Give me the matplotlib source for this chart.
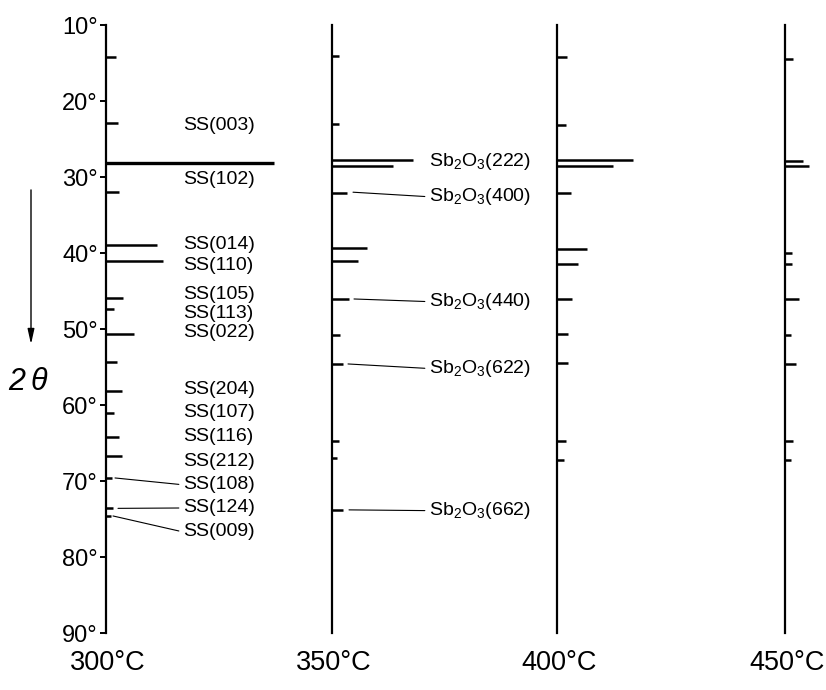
import matplotlib
matplotlib.use('Agg')
import matplotlib.pyplot as plt
from matplotlib import font_manager

# peak positions (2theta, deg) and relative intensities for each annealing temperature
temps = ['300°C', '350°C', '400°C', '450°C']

p300_angle = [14.2, 22.9, 28.1, 32.0, 39.0, 41.05, 45.9, 47.4, 50.6, 54.4, 58.2, 61.0, 64.2, 66.7, 69.6, 73.6, 74.6]
p300_int = [10, 12, 168, 13, 51, 57, 17, 8, 28, 11, 16, 8, 13, 16, 6, 7, 5]

p350_angle = [14.1, 23.0, 27.8, 28.5, 32.1, 39.3, 41.1, 46.05, 50.8, 54.6, 64.8, 67.0, 73.8]
p350_int = [7, 7, 81, 61, 15, 35, 26, 17, 8, 11, 7, 5, 11]

p400_angle = [14.2, 23.2, 27.7, 28.5, 32.1, 39.5, 41.4, 46.0, 50.7, 54.5, 64.8, 67.2]
p400_int = [10, 9, 76, 56, 14, 30, 21, 15, 11, 11, 9, 7]

p450_angle = [14.5, 27.9, 28.6, 40.0, 41.5, 46.05, 50.8, 54.6, 64.8, 67.2]
p450_int = [8, 18, 24, 7, 7, 14, 6, 11, 8, 6]

# SS labels on the 300°C pattern; last three have leader lines to their peaks
ss_labels = ['SS(003)', 'SS(102)', 'SS(014)', 'SS(110)', 'SS(105)', 'SS(113)', 'SS(022)',
             'SS(204)', 'SS(107)', 'SS(116)', 'SS(212)', 'SS(108)', 'SS(124)', 'SS(009)']
ss_label_angle = [23.2, 30.3, 38.9, 41.6, 45.5, 48.0, 50.5, 58.0, 61.05, 64.2, 67.5, 70.5, 73.55, 76.7]
ss_lead_angle = [None] * 11 + [69.6, 73.6, 74.6]
ss_lead_x = [None] * 11 + [9, 12, 7]

# Sb2O3 labels on the 350°C pattern
sb_labels = ['(222)', '(400)', '(440)', '(622)', '(662)']
sb_label_angle = [27.9, 32.6, 46.4, 55.2, 73.9]
sb_lead_angle = [None, 32.0, 46.05, 54.6, 73.8]
sb_lead_x = [None, 21, 22, 16, 17]

names = {f.name for f in font_manager.fontManager.ttflist}
narrow = 'Liberation Sans Narrow' if 'Liberation Sans Narrow' in names else 'Liberation Sans'
plt.rcParams['font.family'] = ['Liberation Sans', 'DejaVu Sans']
plt.rcParams['mathtext.fontset'] = 'custom'
plt.rcParams['mathtext.rm'] = 'Liberation Sans'

W, H = 826, 690
fig = plt.figure(figsize=(W / 100, H / 100), dpi=100)

axis_px = [106, 332, 557, 785]
y_top, y_bot = 25, 633
peaks = [(p300_angle, p300_int), (p350_angle, p350_int),
         (p400_angle, p400_int), (p450_angle, p450_int)]

axes = []
for i, xp in enumerate(axis_px):
    ax = fig.add_axes([xp / W, (H - y_bot) / H, 200 / W, (y_bot - y_top) / H])
    ax.set_xlim(0, 200)
    ax.set_ylim(90, 10)
    ax.patch.set_visible(False)
    for s in ['top', 'right', 'bottom']:
        ax.spines[s].set_visible(False)
    ax.spines['left'].set_linewidth(1.6)
    ax.set_xticks([])
    ang, inten = peaks[i]
    lws = [2.4 if v > 100 else 1.8 for v in inten]
    ax.hlines(ang, 0, inten, colors='black', linewidth=lws)
    ax.text(2, 93.9, temps[i], ha='center', va='center', fontsize=19.5,
            family=[narrow, 'DejaVu Sans'], clip_on=False)
    if i == 0:
        ax.set_yticks(range(10, 91, 10))
        ax.set_yticklabels([f'{v}°' for v in range(10, 91, 10)],
                           fontsize=17, family=[narrow, 'DejaVu Sans'])
        ax.tick_params(axis='y', direction='out', length=4, width=1.4, pad=2)
    else:
        ax.set_yticks([])
    axes.append(ax)

ax0 = axes[0]
for txt, la, pa, px in zip(ss_labels, ss_label_angle, ss_lead_angle, ss_lead_x):
    if pa is None:
        ax0.text(77, la, txt, ha='left', va='center', fontsize=14)
    else:
        ax0.annotate(txt, xy=(px, pa), xytext=(77, la), ha='left', va='center', fontsize=14,
                     arrowprops=dict(arrowstyle='-', lw=0.8, color='black',
                                     shrinkA=1, shrinkB=0, relpos=(0, 0.5)))

ax1 = axes[1]
for txt, la, pa, px in zip(sb_labels, sb_label_angle, sb_lead_angle, sb_lead_x):
    s = r'Sb$_\mathregular{2}$O$_\mathregular{3}$' + txt
    if pa is None:
        ax1.text(97, la, s, ha='left', va='center', fontsize=14)
    else:
        ax1.annotate(s, xy=(px, pa), xytext=(97, la), ha='left', va='center', fontsize=14,
                     arrowprops=dict(arrowstyle='-', lw=0.8, color='black',
                                     shrinkA=1, shrinkB=0, relpos=(0, 0.5)))

# 2theta direction arrow
ax0.annotate('', xy=(-75, 52.0), xytext=(-75, 31.7), annotation_clip=False,
             arrowprops=dict(arrowstyle='-|>,head_length=0.9,head_width=0.2',
                             lw=1.0, color='black', shrinkA=0, shrinkB=0))
ax0.text(-78, 57.0, r'2$\,$θ', ha='center', va='center', fontsize=22,
         style='italic', family=[narrow, 'DejaVu Sans'], clip_on=False)

fig.savefig('out.png', dpi=100)
